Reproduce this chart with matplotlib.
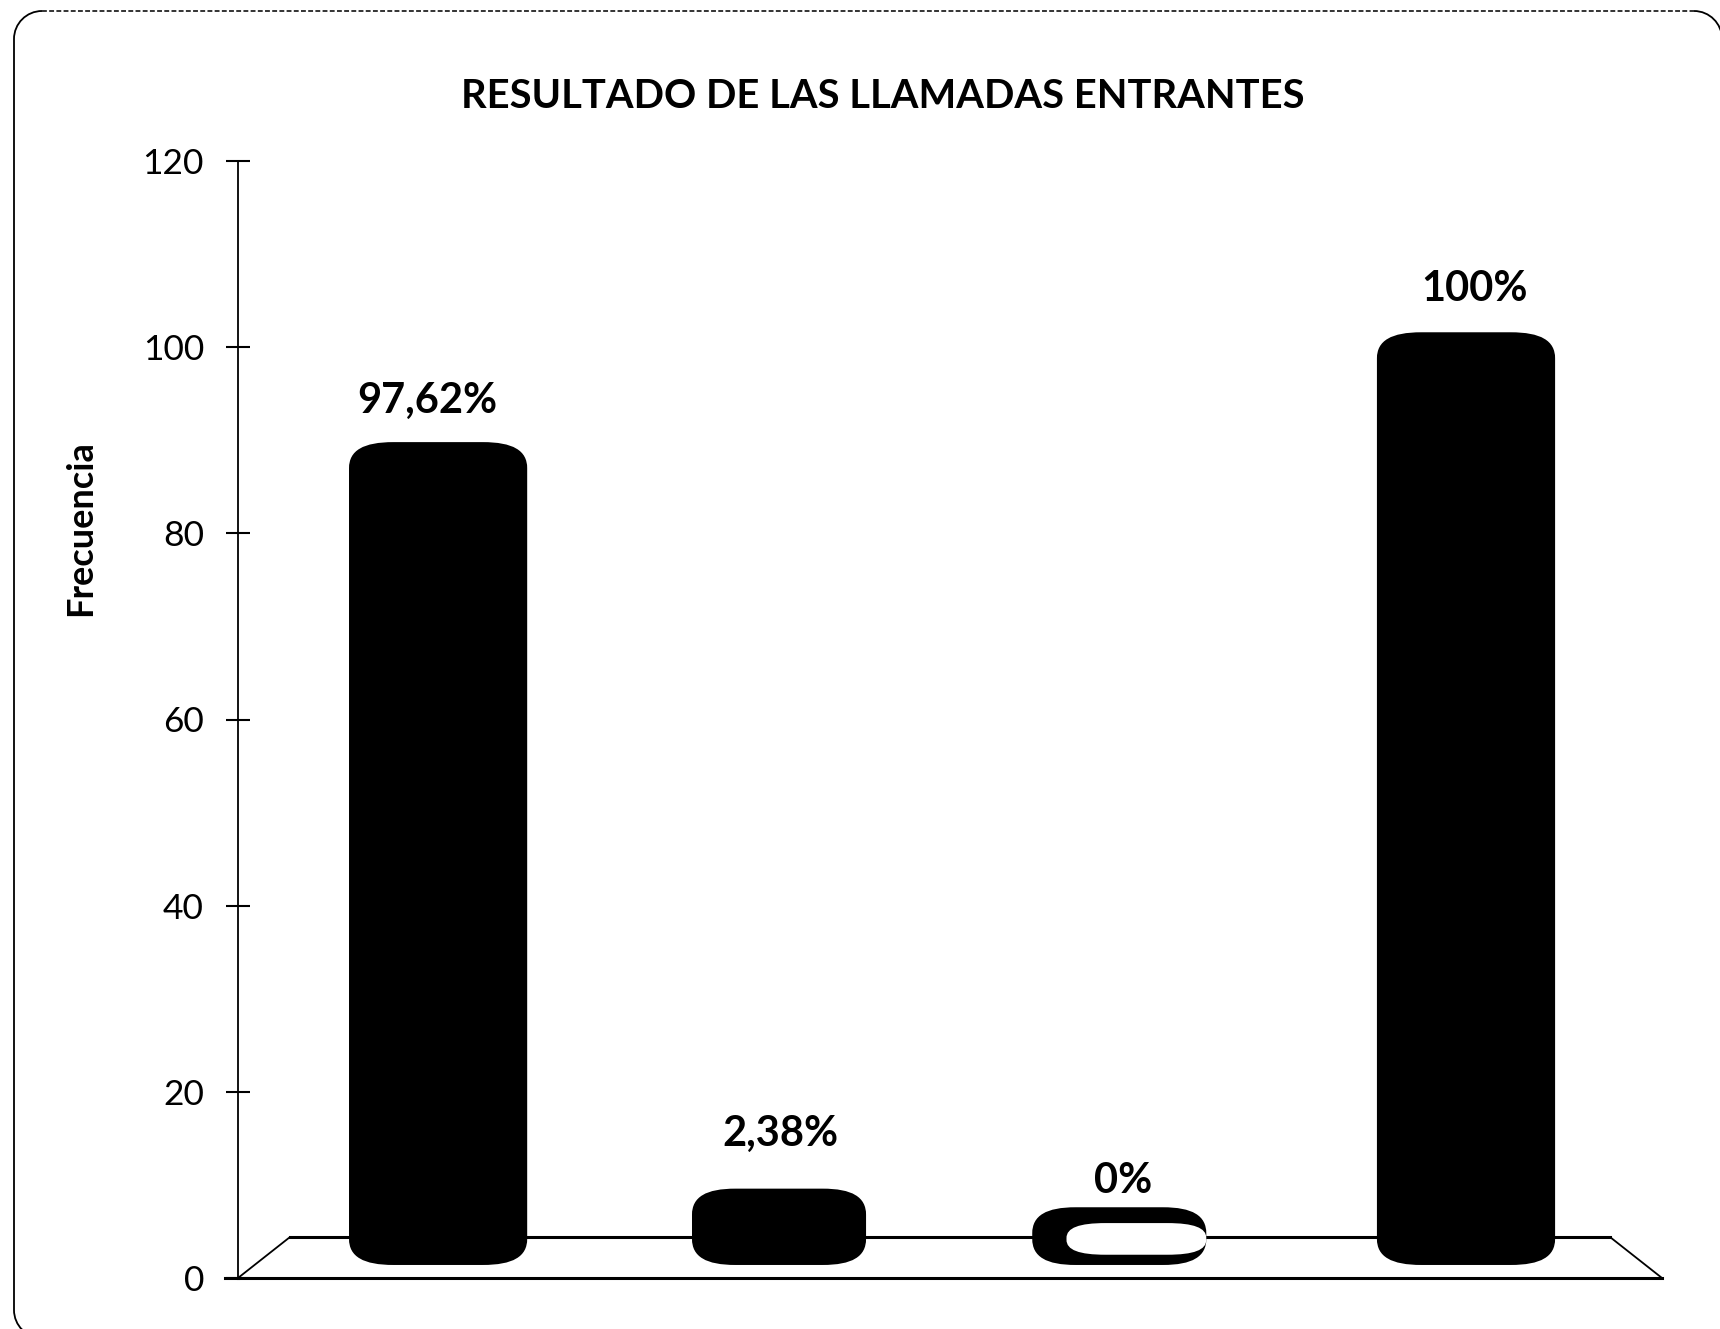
import matplotlib
matplotlib.use("Agg")
import matplotlib.pyplot as plt
from matplotlib.path import Path
from matplotlib.patches import PathPatch
from matplotlib.transforms import blended_transform_factory, IdentityTransform

plt.rcParams['font.family'] = ['Lato', 'DejaVu Sans']

# ---- data ----
labels = ["97,62%", "2,38%", "0%", "100%"]
bar_tops = [89.8, 9.6, 7.6, 101.6]
bar_base = 1.4
y_ticks = [0, 20, 40, 60, 80, 100, 120]
title = "RESULTADO DE LAS LLAMADAS ENTRANTES"
y_label = "Frecuencia"

# ---- layout ----
W, H = 1720, 1329
x_pos = [0.0, 0.995, 1.988, 3.0]
bar_w = [0.52, 0.508, 0.508, 0.52]
label_dx = [-0.032, 0.003, 0.01, 0.026]
label_y = [94.25, 15.45, 10.4, 106.25]

fig = plt.figure(figsize=(W / 100, H / 100), dpi=100, facecolor="white")
L, R, B, T = 238, 1662, 1278, 161
ax = fig.add_axes([L / W, 1 - B / H, (R - L) / W, (B - T) / H])
ax.set_xlim(-0.584, 3.572)
ax.set_ylim(0, 120)
ax.patch.set_alpha(0)


def cylinder(xc, w, y0, y1, rx_frac=0.25, ry=2.8, k=0.68):
    """Rounded column outline in data coordinates."""
    x0, x1 = xc - w / 2, xc + w / 2
    rx = w * rx_frac
    ry = min(ry, (y1 - y0) / 2)
    v = [(x0 + rx, y0),
         (x1 - rx, y0),
         (x1 - rx + k * rx, y0), (x1, y0 + ry - k * ry), (x1, y0 + ry),
         (x1, y1 - ry),
         (x1, y1 - ry + k * ry), (x1 - rx + k * rx, y1), (x1 - rx, y1),
         (x0 + rx, y1),
         (x0 + rx - k * rx, y1), (x0, y1 - ry + k * ry), (x0, y1 - ry),
         (x0, y0 + ry),
         (x0, y0 + ry - k * ry), (x0 + rx - k * rx, y0), (x0 + rx, y0),
         (x0 + rx, y0)]
    c = [Path.MOVETO, Path.LINETO, Path.CURVE4, Path.CURVE4, Path.CURVE4,
         Path.LINETO, Path.CURVE4, Path.CURVE4, Path.CURVE4, Path.LINETO,
         Path.CURVE4, Path.CURVE4, Path.CURVE4, Path.LINETO,
         Path.CURVE4, Path.CURVE4, Path.CURVE4, Path.CLOSEPOLY]
    return Path(v, c)


# floor of the 3-D plot
tr = blended_transform_factory(ax.transAxes, ax.transData)
ax.plot([0, 0.0365, 0.9635, 1], [0, 4.4, 4.4, 0], color="black", lw=1.3,
        transform=tr, zorder=1, clip_on=False)
ax.plot([0.0365, 0.9635], [4.4, 4.4], color="black", lw=2.2, transform=tr,
        zorder=1, clip_on=False)

# columns
for xc, w, top in zip(x_pos, bar_w, bar_tops):
    ax.add_patch(PathPatch(cylinder(xc, w, bar_base, top), facecolor="black",
                           edgecolor="none", zorder=3))

# light interior of the empty column
ax.add_patch(PathPatch(cylinder(x_pos[2] + 0.05, bar_w[2] - 0.10, 2.5, 5.9, rx_frac=0.28, ry=1.6),
                       facecolor="white", edgecolor="none", zorder=4))

# value labels
for xc, dx, ly, s in zip(x_pos, label_dx, label_y, labels):
    ax.text(xc + dx, ly, s, ha="center", va="center", fontsize=30,
            fontweight="bold", color="black", zorder=5)

# axes
for s in ("top", "right"):
    ax.spines[s].set_visible(False)
ax.spines["left"].set_linewidth(1.3)
ax.spines["bottom"].set_linewidth(2.2)
ax.set_xticks([])
ax.set_yticks(y_ticks)
ax.set_yticklabels([str(t) for t in y_ticks], fontsize=25.5, color="black")
ax.tick_params(axis="y", direction="inout", length=17, width=1.5, pad=16)
ax.plot([-0.009, 0], [0, 0], color="black", lw=2.2, transform=tr, clip_on=False, zorder=2)

fig.text(883 / W, 1 - 97 / H, title, ha="center", va="center", fontsize=28.7,
         fontweight="bold", color="black")
fig.text(81 / W, 1 - 528 / H, y_label, ha="center", va="center", rotation=90,
         fontsize=26, fontweight="bold", color="black")

# rounded frame of the chart
fr = IdentityTransform()
def px(x, y):
    return (x, H - y)
r = 28
lx, rx_, ty, by = 14, 1722, 11, 1338
k = 0.5523 * r
side = Path([px(lx + r, ty), px(lx + r - k, ty), px(lx, ty + r - k), px(lx, ty + r),
             px(lx, by - r), px(lx, by - r + k), px(lx + r - k, by), px(lx + r, by)],
            [Path.MOVETO, Path.CURVE4, Path.CURVE4, Path.CURVE4, Path.LINETO,
             Path.CURVE4, Path.CURVE4, Path.CURVE4])
right = Path([px(rx_ - r, ty), px(rx_ - r + k, ty), px(rx_, ty + r - k), px(rx_, ty + r)],
             [Path.MOVETO, Path.CURVE4, Path.CURVE4, Path.CURVE4])
for p in (side, right):
    fig.add_artist(PathPatch(p, facecolor="none", edgecolor="black", lw=1.3, transform=fr))
top_line = Path([px(lx + r, ty), px(rx_ - r, ty)])
fig.add_artist(PathPatch(top_line, facecolor="none", edgecolor="#333333", lw=1.4,
                         linestyle=(0, (2.5, 1.2)), transform=fr))

fig.savefig("out.png", dpi=100, facecolor="white")
